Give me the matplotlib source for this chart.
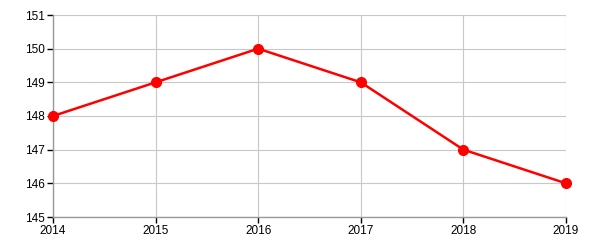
import matplotlib
matplotlib.use('Agg')
import matplotlib.pyplot as plt

years = [2014, 2015, 2016, 2017, 2018, 2019]
values = [148, 149, 150, 149, 147, 146]
y_ticks = [145, 146, 147, 148, 149, 150, 151]

plt.rcParams['font.family'] = ['Liberation Sans', 'DejaVu Sans']

fig = plt.figure(figsize=(6, 2.5), dpi=100)
ax = fig.add_axes([53 / 600, 1 - 217 / 250, (566 - 53) / 600, (217 - 15) / 250])

ax.plot(years, values, color='#ff0000', linewidth=1.8, marker='o',
        markersize=7, markerfacecolor='#ff0000', markeredgecolor='#ff0000',
        zorder=3, clip_on=False)

ax.set_xlim(2014, 2019)
ax.set_ylim(145, 151)
ax.set_xticks(years)
ax.set_yticks(y_ticks)
ax.grid(True, color='#c8c8c8', linewidth=0.8)
ax.set_axisbelow(True)

for side in ['top', 'right']:
    ax.spines[side].set_visible(False)
for side in ['left', 'bottom']:
    ax.spines[side].set_color('#999999')
    ax.spines[side].set_linewidth(1)

ax.tick_params(axis='both', direction='out', length=4, width=1, color='black',
               labelsize=8.5, labelcolor='black', pad=2)

fig.savefig('out.png', dpi=100)
